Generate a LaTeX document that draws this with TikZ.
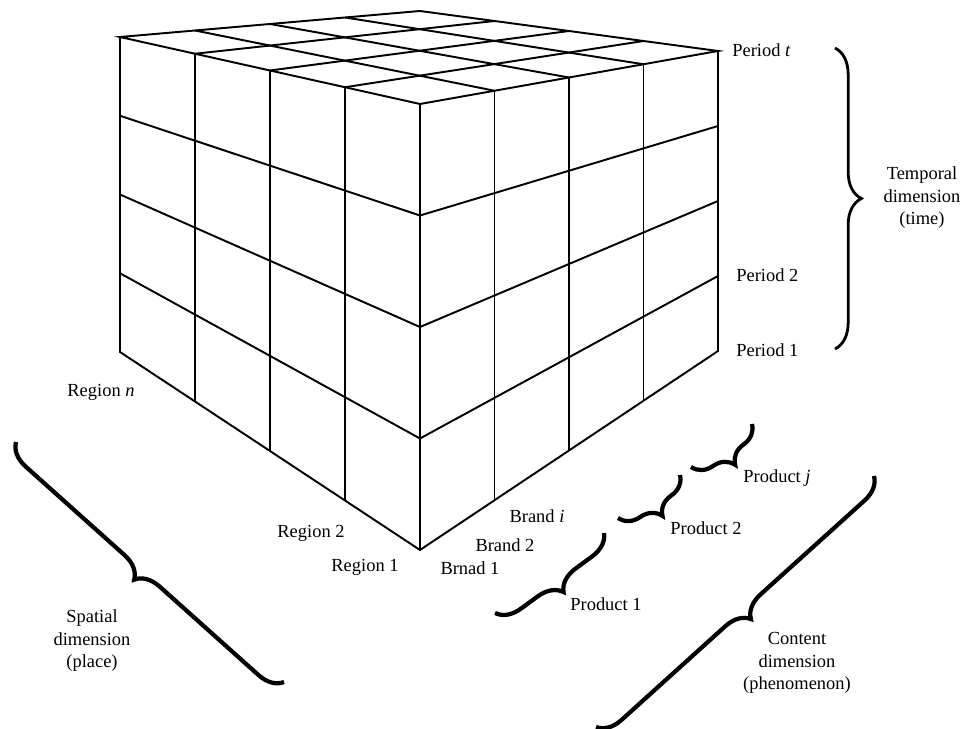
\documentclass[tikz,border=0pt]{standalone}
\usepackage{fontspec}
\setmainfont{Liberation Serif}
\usetikzlibrary{calc,decorations.pathreplacing}
\tikzset{cubeline/.style={line width=1.1pt, line join=miter}}
\tikzset{bigbrace/.style={decorate, decoration={brace, amplitude=13.5pt}, line width=2.4pt}}
\tikzset{lbl/.style={font=\fontsize{10.5}{12.8}\selectfont, align=center, inner sep=0pt}}

\begin{document}
\begin{tikzpicture}[x=0.02cm, y=-0.02cm]
  \useasboundingbox (0,0) rectangle (965,729);
  % corners of the cube
  \coordinate (L) at (120,37);
  \coordinate (B) at (420,11);
  \coordinate (R) at (718,51);
  \coordinate (F) at (420,104);
  \coordinate (LB) at (120,352);
  \coordinate (FB) at (420,550);
  \coordinate (RB) at (718,351);
  \draw[cubeline] (L) -- (B) -- (R) -- (F) -- cycle;
  \draw[cubeline] (L) -- (LB) -- (FB) -- (RB) -- (R);
  \draw[cubeline] (F) -- (FB);
  \foreach \f in {0.25,0.5,0.75} {
    \draw[cubeline] ($(L)!\f!(B)$) -- ($(F)!\f!(R)$);
    \draw[cubeline] ($(L)!\f!(F)$) -- ($(B)!\f!(R)$);
    \draw[cubeline] ($(L)!\f!(F)$) -- ($(LB)!\f!(FB)$);
    \draw[cubeline] ($(L)!\f!(LB)$) -- ($(F)!\f!(FB)$);
    \draw[cubeline] ($(F)!\f!(R)$) -- ($(FB)!\f!(RB)$);
    \draw[cubeline] ($(F)!\f!(FB)$) -- ($(R)!\f!(RB)$);
  }

  % time
  \node[lbl, anchor=west] (pert) at (732,50) {Period \textit{t}};
  \node[lbl, anchor=west] (per2) at (736,275) {Period 2};
  \node[lbl, anchor=west] (per1) at (736,350) {Period 1};
  \coordinate (timetop) at (835,48);
  \coordinate (timebot) at (835,349);
  \draw[bigbrace, line width=1.6pt, decoration={amplitude=15pt}] (timetop) -- (timebot);
  \node[lbl] (time) at (922,198) {Temporal\\dimension\\(time)};

  % place
  \node[lbl] (regn) at (101,392) {Region \textit{n}};
  \node[lbl] (reg2) at (311,533) {Region 2};
  \node[lbl] (reg1) at (365,567) {Region 1};
  \coordinate (placetop) at (16,442);
  \coordinate (placebot) at (284,682);
  \draw[bigbrace] (placebot) -- (placetop);
  \node[lbl] (place) at (92,641) {Spatial\\dimension\\(place)};

  % phenomenon
  \node[lbl] (brandi) at (537,516) {Brand \textit{i}};
  \node[lbl] (brand2) at (505,545) {Brand 2};
  \node[lbl] (brand1) at (470,568) {Brnad 1};
  \coordinate (prod1a) at (604,533);
  \coordinate (prod1b) at (495,613);
  \coordinate (prod2a) at (680,475);
  \coordinate (prod2b) at (618,518);
  \coordinate (prodja) at (752,424);
  \coordinate (prodjb) at (691,467);
  \draw[bigbrace] (prod1a) -- (prod1b);
  \draw[bigbrace] (prod2a) -- (prod2b);
  \draw[bigbrace] (prodja) -- (prodjb);
  \node[lbl] (prod1) at (606,604) {Product 1};
  \node[lbl] (prod2) at (706,528) {Product 2};
  \node[lbl] (prodj) at (777,478) {Product \textit{j}};
  \coordinate (conttop) at (874,476);
  \coordinate (contbot) at (596,727);
  \draw[bigbrace] (conttop) -- (contbot);
  \node[lbl] (content) at (797,663) {Content\\dimension\\(phenomenon)};
\end{tikzpicture}
\end{document}
